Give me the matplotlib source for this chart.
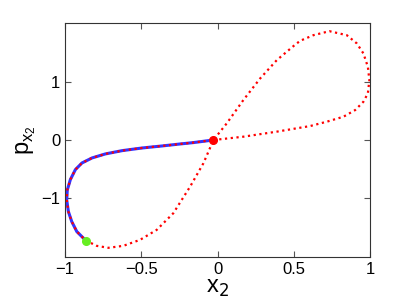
import matplotlib
matplotlib.use("Agg")
import matplotlib.pyplot as plt

plt.rcParams['font.family'] = ['Liberation Sans', 'DejaVu Sans']

# full trajectory (red dotted), starting at the red point
loop_x = [-0.027, 0.060, 0.169, 0.388, 0.607, 0.716, 0.825, 0.902, 0.956, 0.985,
          0.995, 0.985, 0.956, 0.913, 0.847, 0.733, 0.628, 0.541, 0.497, 0.388,
          0.279, 0.169, 0.060, -0.027, -0.093, -0.180, -0.290, -0.399, -0.508,
          -0.618, -0.716, -0.792, -0.864, -0.923, -0.956, -0.978, -0.989, -0.985,
          -0.965, -0.932, -0.889, -0.823, -0.736, -0.626, -0.495, -0.364, -0.250,
          -0.159, -0.027]
loop_y = [0.0, 0.025, 0.057, 0.144, 0.241, 0.316, 0.402, 0.517, 0.661, 0.805,
          1.034, 1.264, 1.494, 1.667, 1.810, 1.879, 1.810, 1.713, 1.621, 1.379,
          1.063, 0.690, 0.287, 0.0, -0.402, -0.805, -1.264, -1.552, -1.724,
          -1.828, -1.862, -1.828, -1.736, -1.581, -1.409, -1.236, -1.034, -0.862,
          -0.684, -0.511, -0.397, -0.310, -0.241, -0.184, -0.138, -0.103, -0.070,
          -0.045, 0.0]

# solid part (blue), from green point back to red point
path_x = [-0.864, -0.923, -0.956, -0.978, -0.989, -0.985, -0.965, -0.932,
          -0.889, -0.823, -0.736, -0.626, -0.495, -0.364, -0.250, -0.159, -0.027]
path_y = [-1.736, -1.581, -1.409, -1.236, -1.034, -0.862, -0.684, -0.511,
          -0.397, -0.310, -0.241, -0.184, -0.138, -0.103, -0.070, -0.045, 0.0]

start_pt = (-0.864, -1.736)
end_pt = (-0.027, 0.0)

fig = plt.figure(figsize=(4.09, 3.07), dpi=100)
ax = fig.add_axes([0.159, 0.163, 0.746, 0.762])

ax.plot(path_x, path_y, color="#3333ff", lw=2.2, solid_capstyle="round",
        solid_joinstyle="round")
ax.plot(loop_x, loop_y, color="red", lw=1.6, ls=(0, (1, 1.6)))
ax.plot(*end_pt, "o", color="red", ms=5.5)
ax.plot(*start_pt, "o", color="#66ee22", ms=5.5)

ax.set_xlim(-1, 1)
ax.set_ylim(-2.02, 2.02)
ax.set_xticks([-1, -0.5, 0, 0.5, 1])
ax.set_xticklabels(["\u22121", "\u22120.5", "0", "0.5", "1"])
ax.set_yticks([-1, 0, 1])
ax.set_yticklabels(["\u22121", "0", "1"])
ax.tick_params(direction="in", top=True, right=True, labelsize=12,
               length=4, color="#555555")
for s in ax.spines.values():
    s.set_color("#333333")
    s.set_linewidth(0.8)
ax.set_xlabel(r"x$_2$", fontsize=17, labelpad=0)
ax.set_ylabel(r"p$_{\mathregular{x_2}}$", fontsize=17, labelpad=2)

fig.savefig("out.png", dpi=100)
